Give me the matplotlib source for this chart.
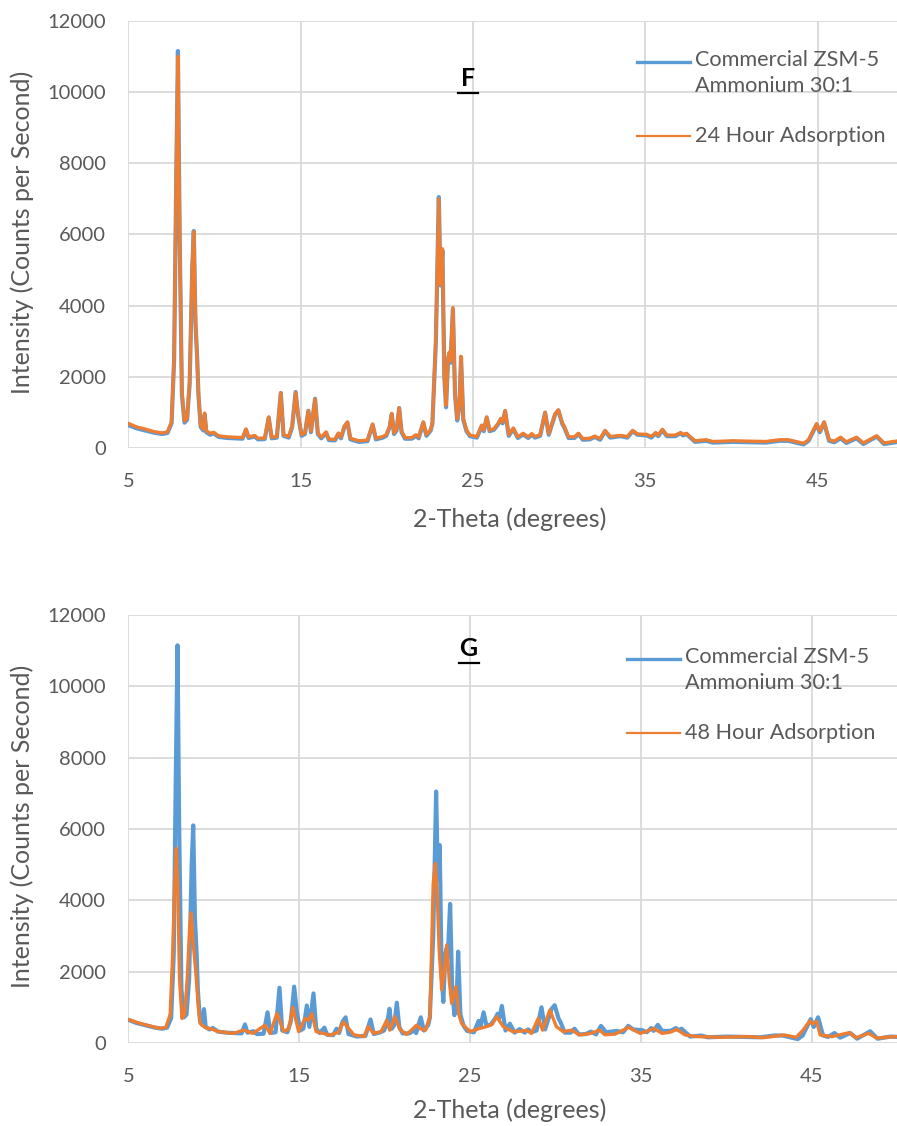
import matplotlib
matplotlib.use("Agg")
import matplotlib.pyplot as plt
from matplotlib.lines import Line2D

plt.rcParams['font.family'] = ['Lato', 'DejaVu Sans']

# ---- data -------------------------------------------------------------
two_theta_ref = [
    5.00, 5.48, 5.98, 6.47, 6.97, 7.27, 7.51, 7.66, 7.78, 7.88,
    7.98, 8.11, 8.26, 8.41, 8.56, 8.71, 8.80, 8.90, 9.00, 9.07,
    9.20, 9.35, 9.43, 9.53, 9.75, 9.95, 10.24, 10.74, 11.24, 11.63,
    11.83, 11.98, 12.33, 12.53, 12.92, 13.15, 13.32, 13.62, 13.85, 14.01,
    14.31, 14.51, 14.71, 14.86, 15.06, 15.25, 15.45, 15.60, 15.84, 16.00,
    16.20, 16.48, 16.64, 16.99, 17.19, 17.34, 17.54, 17.72, 17.89, 18.38,
    18.88, 19.18, 19.37, 19.77, 19.97, 20.17, 20.29, 20.42, 20.57, 20.72,
    20.86, 21.06, 21.46, 21.70, 21.85, 22.12, 22.30, 22.55, 22.65, 22.85,
    23.02, 23.12, 23.23, 23.34, 23.44, 23.56, 23.63, 23.70, 23.84, 23.96,
    24.09, 24.22, 24.31, 24.44, 24.63, 24.83, 25.23, 25.51, 25.63, 25.80,
    25.97, 26.22, 26.47, 26.62, 26.72, 26.87, 27.08, 27.34, 27.61, 27.91,
    28.21, 28.41, 28.60, 28.90, 29.19, 29.40, 29.77, 29.96, 30.19, 30.29,
    30.55, 30.89, 31.12, 31.38, 31.78, 32.08, 32.38, 32.67, 32.97, 33.57,
    33.96, 34.27, 34.55, 35.09, 35.35, 35.61, 35.75, 36.00, 36.25, 36.74,
    37.06, 37.19, 37.39, 37.89, 38.53, 38.92, 40.07, 41.01, 42.00, 42.80,
    43.29, 44.19, 44.48, 44.95, 45.13, 45.38, 45.67, 45.97, 46.34, 46.67,
    47.26, 47.66, 48.43, 48.86, 49.64, 50.00,
]

commercial = [
    650, 560, 500, 440, 400, 430, 700, 2500, 7500, 11150,
    6000, 1500, 720, 800, 1800, 5000, 6100, 3500, 2500, 1500,
    600, 500, 950, 450, 380, 420, 320, 290, 280, 270,
    520, 290, 330, 250, 260, 860, 280, 300, 1550, 350,
    300, 600, 1580, 900, 350, 400, 1050, 450, 1390, 400,
    280, 430, 230, 220, 400, 280, 600, 720, 250, 180,
    200, 660, 250, 300, 350, 600, 960, 400, 500, 1130,
    450, 270, 270, 350, 280, 720, 350, 500, 700, 3000,
    7050, 4570, 5550, 2000, 1150, 2500, 2650, 2400, 3900, 1500,
    780, 1200, 2560, 800, 480, 340, 300, 620, 480, 860,
    480, 520, 680, 820, 700, 1040, 350, 540, 290, 390,
    290, 380, 300, 350, 1000, 380, 950, 1060, 680, 600,
    290, 290, 400, 240, 250, 320, 240, 480, 300, 340,
    300, 480, 380, 360, 300, 420, 340, 510, 340, 340,
    420, 360, 400, 180, 210, 160, 180, 170, 160, 210,
    210, 110, 210, 670, 450, 720, 210, 170, 280, 150,
    280, 120, 330, 120, 180, 170,
]

adsorption_24h = [
    700, 600, 540, 470, 430, 460, 740, 2600, 7600, 11000,
    6100, 1600, 760, 840, 1900, 5100, 6080, 3600, 2450, 1550,
    640, 540, 990, 490, 420, 450, 350, 320, 310, 300,
    540, 320, 360, 280, 290, 880, 310, 330, 1560, 380,
    330, 620, 1570, 930, 380, 430, 1060, 480, 1380, 430,
    310, 460, 260, 250, 430, 310, 620, 740, 280, 210,
    230, 680, 280, 330, 380, 620, 980, 430, 530, 1140,
    480, 300, 300, 380, 310, 740, 380, 530, 720, 3100,
    7000, 4600, 5600, 2050, 1200, 2550, 2700, 2450, 3950, 1550,
    820, 1250, 2580, 840, 510, 370, 330, 650, 510, 880,
    510, 550, 700, 840, 730, 1060, 380, 570, 320, 420,
    320, 410, 330, 380, 1010, 410, 970, 1080, 700, 630,
    320, 320, 420, 270, 280, 340, 270, 500, 330, 360,
    330, 500, 400, 390, 330, 440, 370, 530, 370, 370,
    440, 390, 420, 210, 240, 190, 210, 200, 190, 240,
    240, 140, 240, 690, 480, 740, 240, 200, 310, 180,
    310, 150, 350, 150, 210, 200,
]

two_theta_48h = [
    5.00, 5.50, 6.00, 6.50, 6.87, 7.20, 7.45, 7.60, 7.72, 7.81,
    7.90, 8.00, 8.14, 8.30, 8.45, 8.60, 8.68, 8.80, 8.95, 9.10,
    9.21, 9.50, 9.80, 10.30, 11.14, 11.74, 12.30, 13.00, 13.30, 13.70,
    14.10, 14.40, 14.63, 14.97, 15.35, 15.55, 15.74, 16.00, 16.80, 17.30,
    17.59, 18.20, 18.80, 19.05, 19.35, 19.80, 20.13, 20.30, 20.60, 20.90,
    21.30, 21.88, 22.10, 22.40, 22.66, 22.85, 22.97, 23.08, 23.20, 23.35,
    23.50, 23.64, 23.80, 23.93, 24.18, 24.35, 24.51, 25.00, 25.58, 25.97,
    26.30, 26.56, 26.95, 27.50, 28.00, 28.30, 28.60, 29.00, 29.25, 29.68,
    30.06, 30.45, 30.94, 31.40, 32.00, 32.60, 32.90, 33.50, 34.30, 34.60,
    34.97, 35.30, 35.76, 36.25, 36.70, 37.12, 37.60, 38.30, 39.60, 41.20,
    42.20, 43.40, 44.10, 44.50, 44.90, 45.05, 45.30, 45.50, 46.20, 47.20,
    47.60, 48.35, 48.80, 50.00,
]

adsorption_48h = [
    660, 580, 510, 450, 410, 440, 800, 2500, 4500, 5460,
    4200, 1800, 690, 800, 1800, 3300, 3650, 2800, 2000, 1000,
    550, 430, 400, 320, 270, 360, 270, 500, 270, 830,
    320, 400, 1000, 320, 690, 640, 830, 320, 220, 300,
    590, 230, 180, 460, 270, 320, 640, 360, 740, 380,
    240, 500, 400, 360, 740, 4470, 5030, 4200, 2600, 1490,
    2000, 2750, 1700, 1110, 1580, 800, 550, 320, 410, 460,
    520, 740, 460, 320, 330, 360, 270, 690, 360, 925,
    460, 320, 360, 230, 260, 360, 230, 250, 440, 360,
    270, 320, 410, 270, 300, 380, 225, 180, 160, 180,
    150, 225, 160, 360, 620, 540, 600, 225, 180, 290,
    150, 270, 140, 180,
]

x_ticks = [5, 15, 25, 35, 45]
y_ticks = [0, 2000, 4000, 6000, 8000, 10000, 12000]

ref_label = "Commercial ZSM-5\nAmmonium 30:1"
panels = [
    ("F", two_theta_ref, adsorption_24h, "24 Hour Adsorption"),
    ("G", two_theta_48h, adsorption_48h, "48 Hour Adsorption"),
]

# ---- styling ----------------------------------------------------------
BLUE = "#5B9BD5"
ORANGE = "#ED7D31"
TEXT = "#595959"
GRID = "#D9D9D9"

W, H = 897, 1126
fig = plt.figure(figsize=(W / 100, H / 100), dpi=100)


def fx(px):
    return px / W


def fy(py):
    return 1 - py / H


# axes boxes in pixels: left, right, top, bottom
boxes = [(128.3, 903.7, 20.7, 448.3), (128.3, 897.0, 615.0, 1043.0)]
legend_pos = [(637, 690, 62, 136), (627, 680, 659, 733)]
title_pos = [(468, 78), (468.5, 648)]
xlabel_y = [519, 1110]
ylabel_y = [232, 826]

for (tag, xs, ys, lab), (l, r, t, b), (lx0, lx1, ly1, ly2), (tx, ty), xly, yly in zip(
        panels, boxes, legend_pos, title_pos, xlabel_y, ylabel_y):
    ax = fig.add_axes([fx(l), fy(b), (r - l) / W, (b - t) / H])
    ax.plot(two_theta_ref, commercial, color=BLUE, lw=3.0,
            solid_joinstyle="round", solid_capstyle="round", zorder=3)
    ax.plot(xs, ys, color=ORANGE, lw=2.4, solid_joinstyle="round",
            solid_capstyle="round", zorder=4)
    ax.set_xlim(5, 50)
    ax.set_ylim(0, 12000)
    ax.set_xticks(x_ticks)
    ax.set_yticks(y_ticks)
    ax.grid(True, color=GRID, lw=1.3, zorder=0)
    for s in ax.spines.values():
        s.set_visible(False)
    ax.tick_params(length=0, labelsize=14.5, colors=TEXT)
    ax.tick_params(axis="x", pad=18)
    ax.tick_params(axis="y", pad=16)
    ax.set_xlabel("2-Theta (degrees)", fontsize=18, color=TEXT)
    ax.xaxis.label.set_va("center")
    ax.xaxis.set_label_coords((510 - l) / (r - l), -(xly - b) / (b - t))
    ax.set_ylabel("Intensity (Counts per Second)", fontsize=18, color=TEXT)
    ax.yaxis.label.set_va("center")
    ax.yaxis.set_label_coords(-(l - 22) / (r - l), (b - yly) / (b - t))

    # panel tag, bold and underlined
    fig.text(fx(tx), fy(ty), tag, ha="center", va="center",
             fontsize=18, fontweight="bold", color="black")
    fig.add_artist(Line2D([fx(tx - 10), fx(tx + 10)],
                          [fy(ty + 14.5), fy(ty + 14.5)],
                          color="black", lw=1.6))

    # legend drawn as line keys with text beside them
    fig.add_artist(Line2D([fx(lx0), fx(lx1)], [fy(ly1), fy(ly1)],
                          color=BLUE, lw=2.4))
    fig.add_artist(Line2D([fx(lx0), fx(lx1)], [fy(ly2), fy(ly2)],
                          color=ORANGE, lw=1.6))
    fig.text(fx(lx1 + 5), fy(ly1 - 12), ref_label, ha="left", va="top",
             fontsize=15.6, color=TEXT, linespacing=1.35)
    fig.text(fx(lx1 + 5), fy(ly2), lab, ha="left", va="center",
             fontsize=15.6, color=TEXT)

fig.savefig("out.png", dpi=100)
